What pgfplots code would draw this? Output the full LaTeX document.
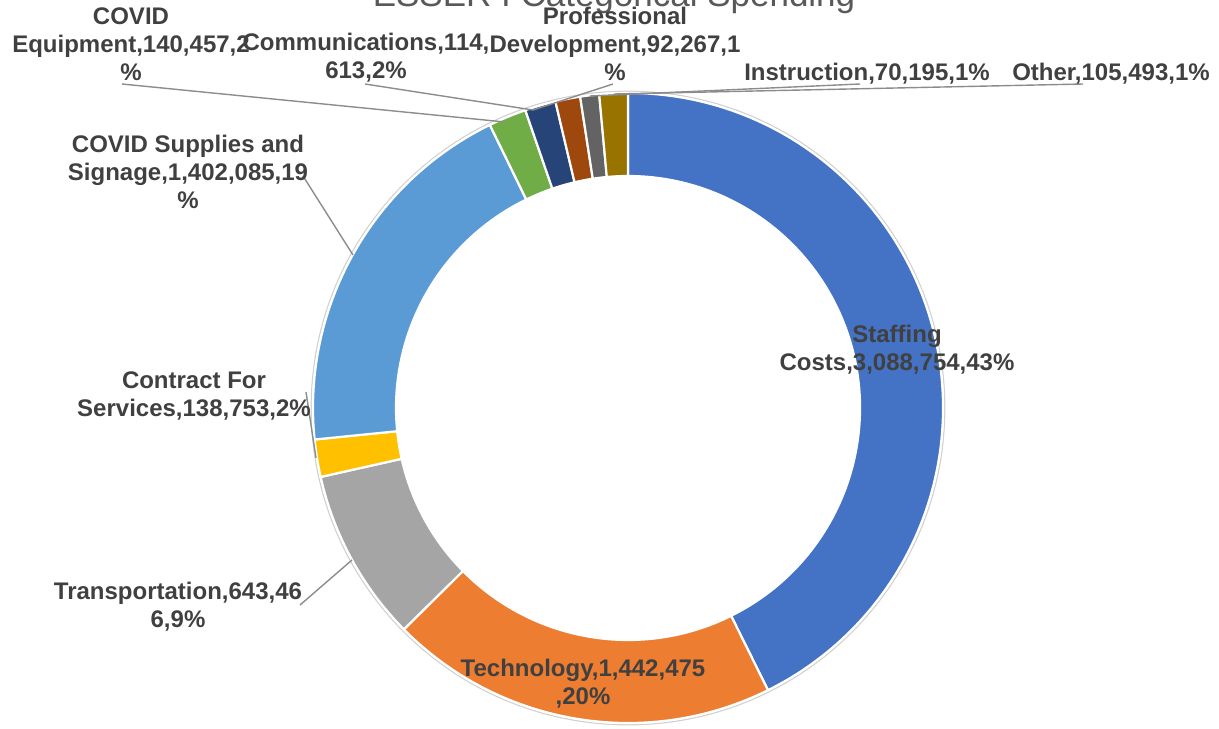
\documentclass[border=0pt]{standalone}
\usepackage{fontspec}
\setmainfont{Liberation Sans}
\usepackage{pgfplots}
\usepackage{pgfplotstable}
\pgfplotsset{compat=1.18}
\definecolor{s0}{HTML}{4472C4}
\definecolor{s1}{HTML}{ED7D31}
\definecolor{s2}{HTML}{A5A5A5}
\definecolor{s3}{HTML}{FFC000}
\definecolor{s4}{HTML}{5B9BD5}
\definecolor{s5}{HTML}{70AD47}
\definecolor{s6}{HTML}{264478}
\definecolor{s7}{HTML}{9E480E}
\definecolor{s8}{HTML}{636363}
\definecolor{s9}{HTML}{997300}
\definecolor{lbl}{HTML}{404040}
\definecolor{ttl}{HTML}{595959}
\definecolor{lead}{HTML}{8C8C8C}
% values in thousands of dollars, clockwise from the top
\pgfplotstableread{
v
3088.754
1442.475
643.466
138.753
1402.085
140.457
114.613
92.267
70.195
105.493
}\data
\newcommand\lblfont{\fontsize{12}{14}\selectfont\bfseries}
\begin{document}
\begin{tikzpicture}
\xdef\total{0}
\foreach \i in {0,...,9}{%
  \pgfplotstablegetelem{\i}{v}\of\data
  \pgfmathsetmacro\t{\total+\pgfplotsretval}%
  \xdef\total{\t}%
}
\xdef\cum{0}
\foreach \i in {0,...,9}{%
  \pgfplotstablegetelem{\i}{v}\of\data
  \pgfmathsetmacro\aS{90-360*(\cum/\total)}%
  \pgfmathsetmacro\c{\cum+\pgfplotsretval}%
  \xdef\cum{\c}%
  \pgfmathsetmacro\aE{90-360*(\cum/\total)}%
  \expandafter\xdef\csname aS\i\endcsname{\aS}%
  \expandafter\xdef\csname aE\i\endcsname{\aE}%
}
\begin{axis}[
  at={(0,0)}, anchor=south west,
  width=609.5pt, height=364pt, scale only axis,
  xmin=0, xmax=1219, ymin=0, ymax=728, y dir=reverse,
  hide axis, clip=false,
]
\draw[black!18, line width=0.6pt] (axis cs:628,408) circle[radius=158.4pt];
\pgfplotsinvokeforeach{0,...,9}{
  \fill[s#1, draw=white, line width=1.1pt]
    ([shift={(\csname aS#1\endcsname:157.5pt)}]axis cs:628,408)
    arc[start angle=\csname aS#1\endcsname, end angle=\csname aE#1\endcsname, radius=157.5pt]
    -- ([shift={(\csname aE#1\endcsname:116pt)}]axis cs:628,408)
    arc[start angle=\csname aE#1\endcsname, end angle=\csname aS#1\endcsname, radius=116pt]
    -- cycle;
}
% leader lines
\draw[lead, line width=0.7pt] (axis cs:122,84) -- (axis cs:505,122);
\draw[lead, line width=0.7pt] (axis cs:365,84) -- (axis cs:533,110);
\draw[lead, line width=0.7pt] (axis cs:613,84) -- (axis cs:533,110);
\draw[lead, line width=0.7pt] (axis cs:860,84) -- (axis cs:590,96);
\draw[lead, line width=0.7pt] (axis cs:1083,84) -- (axis cs:614,94);
\draw[lead, line width=0.7pt] (axis cs:303,176) -- (axis cs:353,255);
\draw[lead, line width=0.7pt] (axis cs:306,392) -- (axis cs:316,458);
\draw[lead, line width=0.7pt] (axis cs:300,605) -- (axis cs:352,560);
% title
\node[anchor=base, text=ttl, font=\fontsize{17.5}{20}\selectfont, inner sep=0pt] at (axis cs:614,6) {ESSER I Categorical Spending};
% labels
\begin{scope}[every node/.style={align=center, text=lbl, font=\lblfont, inner sep=0pt}]
\node at (axis cs:131,44) {COVID\\Equipment,140,457,2\\\%};
\node at (axis cs:366,58) {Communications,114,\\613,2\%};
\node at (axis cs:615,44) {Professional\\Development,92,267,1\\\%};
\node at (axis cs:867,74) {Instruction,70,195,1\%};
\node at (axis cs:1111,74) {Other,105,493,1\%};
\node at (axis cs:188,172) {COVID Supplies and\\Signage,1,402,085,19\\\%};
\node at (axis cs:194,396) {Contract For\\Services,138,753,2\%};
\node at (axis cs:178,607) {Transportation,643,46\\6,9\%};
\node at (axis cs:583,684) {Technology,1,442,475\\,20\%};
\node at (axis cs:897,350) {Staffing\\Costs,3,088,754,43\%};
\end{scope}
\end{axis}
\pgfresetboundingbox
\path[use as bounding box] (0,0) rectangle (609.5pt,364pt);
\end{tikzpicture}
\end{document}
